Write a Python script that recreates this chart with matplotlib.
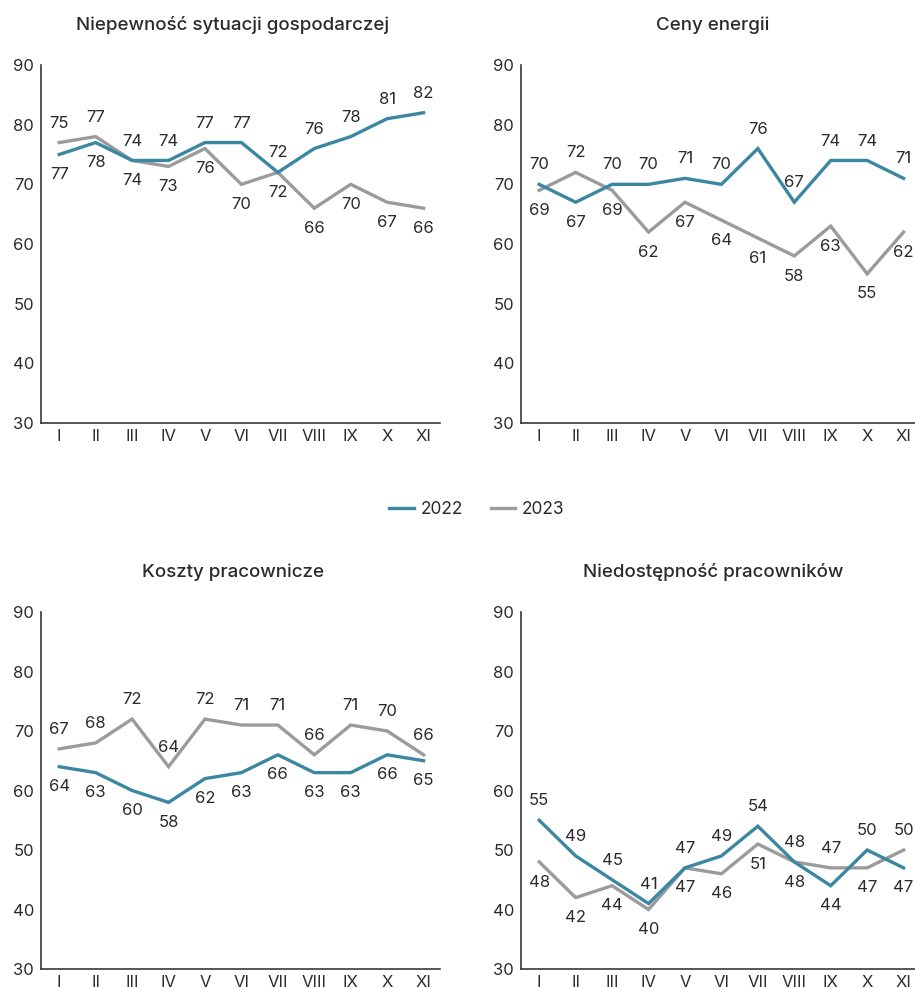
import matplotlib
matplotlib.use("Agg")
from matplotlib import pyplot as plt
from matplotlib.lines import Line2D

plt.rcParams["font.family"] = ["Inter", "DejaVu Sans"]

# months on the x axis
months = ["I", "II", "III", "IV", "V", "VI", "VII", "VIII", "IX", "X", "XI"]
years = ["2022", "2023"]

titles = ["Niepewność sytuacji gospodarczej", "Ceny energii",
          "Koszty pracownicze", "Niedostępność pracowników"]

uncertainty_2022 = [75, 77, 74, 74, 77, 77, 72, 76, 78, 81, 82]
uncertainty_2023 = [77, 78, 74, 73, 76, 70, 72, 66, 70, 67, 66]

energy_2022 = [70, 67, 70, 70, 71, 70, 76, 67, 74, 74, 71]
energy_2023 = [69, 72, 69, 62, 67, 64, 61, 58, 63, 55, 62]

labour_cost_2022 = [64, 63, 60, 58, 62, 63, 66, 63, 63, 66, 65]
labour_cost_2023 = [67, 68, 72, 64, 72, 71, 71, 66, 71, 70, 66]

staff_2022 = [55, 49, 45, 41, 47, 49, 54, 48, 44, 50, 47]
staff_2023 = [48, 42, 44, 40, 47, 46, 51, 48, 47, 47, 50]

panels = [
    (uncertainty_2022, uncertainty_2023),
    (energy_2022, energy_2023),
    (labour_cost_2022, labour_cost_2023),
    (staff_2022, staff_2023),
]

# which series gets its value label above the lines ("a") or below ("b")
label_side_2022 = [
    "aaaaaaaaaaa",
    "abaaaaaaaaa",
    "bbbbbbbbbbb",
    "aaaaaaaabab",
]

BLUE = "#3b87a2"
GREY = "#9b9b9d"
TEXT = "#2b2b2b"

W, H = 915, 988
fig = plt.figure(figsize=(W / 100, H / 100), dpi=100)

# axes boxes in pixels: left, top(90), bottom(30)
boxes = [(41, 65, 423), (521, 65, 423), (41, 612, 969), (521, 612, 969)]
title_y = [25, 25, 572, 572]
ax_w = 399

x = list(range(len(months)))

for i, (l, t, b) in enumerate(boxes):
    ax = fig.add_axes([l / W, (H - b) / H, ax_w / W, (b - t) / H])
    s22, s23 = panels[i]
    ax.plot(x, s22, color=BLUE, lw=2.4, solid_joinstyle="miter", zorder=3)
    ax.plot(x, s23, color=GREY, lw=2.4, solid_joinstyle="miter", zorder=2)

    for j in x:
        top = max(s22[j], s23[j])
        bot = min(s22[j], s23[j])
        if label_side_2022[i][j] == "a":
            up, down = s22[j], s23[j]
        else:
            up, down = s23[j], s22[j]
        ax.annotate(str(up), (j, top), xytext=(0, 14), textcoords="offset points",
                    ha="center", va="center", fontsize=12, color=TEXT)
        ax.annotate(str(down), (j, bot), xytext=(0, -14.5), textcoords="offset points",
                    ha="center", va="center", fontsize=12, color=TEXT)

    ax.set_xlim(-0.5, 10.45)
    ax.set_ylim(30, 90)
    ax.set_yticks(range(30, 91, 10))
    ax.set_xticks(x)
    ax.set_xticklabels(months)
    ax.tick_params(axis="both", length=0, labelsize=12, colors=TEXT)
    ax.tick_params(axis="y", pad=5)
    ax.tick_params(axis="x", pad=4)
    for side in ["top", "right"]:
        ax.spines[side].set_visible(False)
    for side in ["left", "bottom"]:
        ax.spines[side].set_color("#3a3a3a")
        ax.spines[side].set_linewidth(1.2)

    fig.text((l + 192) / W, (H - title_y[i]) / H, titles[i], ha="center",
             va="center", fontsize=13.5, fontweight="medium", color=TEXT)

handles = [Line2D([], [], color=BLUE, lw=2.4), Line2D([], [], color=GREY, lw=2.4)]
fig.legend(handles, years, loc="center", bbox_to_anchor=(477 / W, (H - 510) / H),
           ncol=2, frameon=False, fontsize=12.5, handlelength=1.4,
           handletextpad=0.4, columnspacing=1.6, labelcolor=TEXT)

fig.savefig("out.png", dpi=100)
